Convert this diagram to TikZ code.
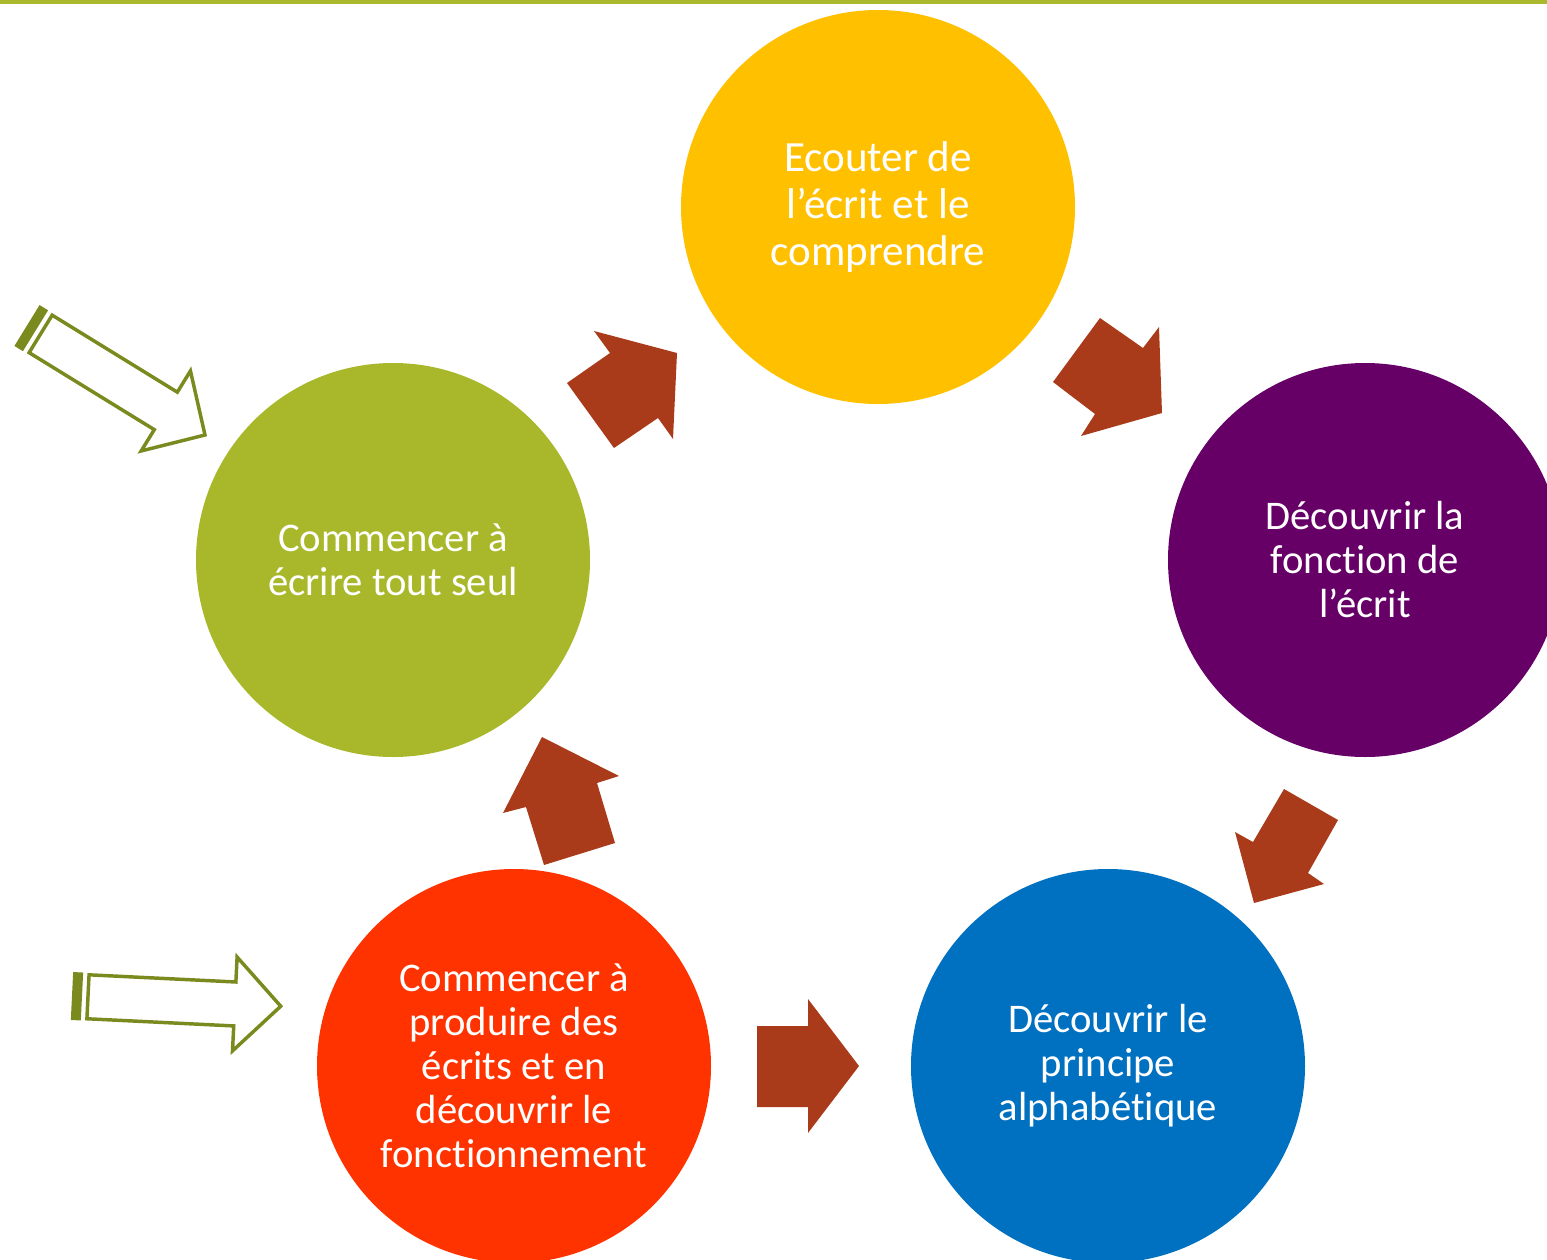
\documentclass[tikz,border=0pt]{standalone}
\usepackage{fontspec}
\setmainfont{Carlito}[Ligatures=NoCommon]
\definecolor{yellowC}{HTML}{FFC000}
\definecolor{greenC}{HTML}{A9B82A}
\definecolor{purpleC}{HTML}{660066}
\definecolor{blueC}{HTML}{0070C0}
\definecolor{redC}{HTML}{FF3300}
\definecolor{arrowC}{HTML}{A93B1A}
\definecolor{oliveC}{HTML}{7B8A1E}
\definecolor{lineC}{HTML}{A9B92B}
\tikzset{
  bubble/.style={circle, minimum size=295.5pt, inner sep=0pt, text=white, align=center,
    font=\fontsize{30.5}{33}\selectfont},
  bigbubble/.style={bubble, font=\fontsize{32.3}{35}\selectfont},
  blockarrow/.style={fill=arrowC, draw=none},
  hollowarrow/.style={draw=oliveC, line width=2.6pt, fill=white, line join=miter},
  stripe/.style={fill=oliveC, draw=none}
}
\begin{document}
\begin{tikzpicture}[x=0.75pt, y=-0.75pt]
\useasboundingbox (0,0) rectangle (1547,1260);
\clip (0,0) rectangle (1547,1260);
% top line
\fill[lineC] (0,0) rectangle (1547,4);
% circles
\node[bigbubble, fill=yellowC] (ecouter) at (878,207) {Ecouter de\\l’écrit et le\\comprendre};
\node[bubble, fill=greenC] (seul) at (393,560) {Commencer à\\écrire tout seul};
\node[bubble, fill=purpleC] (fonction) at (1365,560) {Découvrir la\\fonction de\\l’écrit};
\node[bubble, fill=blueC] (principe) at (1108,1066) {Découvrir le\\principe\\alphabétique};
\node[bubble, fill=redC] (produire) at (514,1066) {Commencer à\\produire des\\écrits et en\\découvrir le\\fonctionnement};
% block arrows
\fill[blockarrow] (594,331) -- (677,353) -- (673,439) -- (658,418) -- (614,448) -- (567,383) -- (610,353) -- cycle;
\fill[blockarrow] (1100,318) -- (1143,348) -- (1159,327) -- (1162,413) -- (1081,436) -- (1095,414) -- (1053,382) -- cycle;
\fill[blockarrow] (1284,789) -- (1338,820) -- (1308,873) -- (1324,884) -- (1254,903) -- (1235,832) -- (1253,842) -- cycle;
\fill[blockarrow] (542,737) -- (619,776) -- (597,783) -- (615,843) -- (544,865) -- (526,807) -- (503,813) -- cycle;
\fill[blockarrow] (757,1026) -- (808,1026) -- (808,999) -- (859,1066) -- (808,1133) -- (808,1107) -- (757,1107) -- cycle;
% hollow striped arrows
\begin{scope}[shift={(27,325.5)}, rotate=-31.6]
  \fill[stripe] (0,-24) rectangle (10,24);
  \draw[hollowarrow] (16,-22) -- (163,-22) -- (163,-47) -- (209,0) -- (163,47) -- (163,22) -- (16,22) -- cycle;
\end{scope}
\begin{scope}[shift={(72,996)}, rotate=-2.8]
  \fill[stripe] (0,-24) rectangle (10,24);
  \draw[hollowarrow] (16,-22) -- (163,-22) -- (163,-47) -- (209,0) -- (163,47) -- (163,22) -- (16,22) -- cycle;
\end{scope}
\end{tikzpicture}
\end{document}
